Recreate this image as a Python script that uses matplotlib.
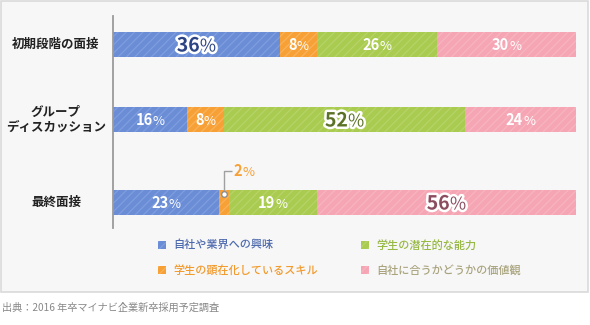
import matplotlib
matplotlib.use('Agg')
import matplotlib.pyplot as plt
import numpy as np
from matplotlib.patches import Rectangle
from matplotlib import patheffects as pe
from matplotlib.transforms import offset_copy, blended_transform_factory

plt.rcParams['font.family'] = ['Noto Sans CJK JP', 'DejaVu Sans']
plt.rcParams['hatch.linewidth'] = 0.9

# ---- data -------------------------------------------------------------
categories = ['初期段階の面接', 'グループ\nディスカッション', '最終面接']
series_names = ['自社や業界への興味', '学生の顕在化しているスキル',
                '学生の潜在的な能力', '自社に合うかどうかの価値観']
interest = [36, 16, 23]
visible_skill = [8, 8, 2]
potential = [26, 52, 19]
culture_fit = [30, 24, 56]
source_note = '出典：2016 年卒マイナビ企業新卒採用予定調査'

# ---- styling ----------------------------------------------------------
fill_colors = ['#6a8dd6', '#f7a035', '#a9cb4f', '#f5a5b3']
hatch_colors = ['#7f9ede', '#f9b25a', '#b7d36a', '#f7b5c0']
legend_text_colors = ['#4d6aae', '#f29a2c', '#97b843', '#a9a47e']
highlight_colors = ['#2c4484', '#b86a10', '#5b7226', '#8b4d5f']

W, H = 590, 325
fig = plt.figure(figsize=(W / 100, H / 100), dpi=100)
fig.patch.set_facecolor('white')

# light panel behind chart and legend
fig.add_artist(Rectangle((0.6 / W, 1 - 291.5 / H), 587 / W, 291 / H,
                         transform=fig.transFigure, facecolor='#f7f7f7',
                         edgecolor='#dadada', lw=1.2, zorder=0))

ax = fig.add_axes([113 / W, 1 - 228 / H, 463 / W, 212 / H])
ax.patch.set_visible(False)
for s in ['top', 'right', 'bottom']:
    ax.spines[s].set_visible(False)
ax.spines['left'].set_color('#9a9a9a')
ax.spines['left'].set_linewidth(1.3)
ax.set_xticks([])
ax.set_yticks([])

series = [interest, visible_skill, potential, culture_fit]
n = len(categories)
rows = np.arange(n, dtype=float)
rows[2] += 0.107          # extra room for the small-value callout
bar_h = 1 / 3
ax.set_xlim(0, 100)
ax.set_ylim(rows[-1] + 0.34, -0.38)

lefts = np.zeros(n)
for j, vals in enumerate(series):
    ax.barh(rows, vals, left=lefts, height=bar_h, color=fill_colors[j],
            edgecolor=hatch_colors[j], linewidth=0, hatch='////', zorder=2)
    lefts += np.array(vals)

# ---- value labels ------------------------------------------------------
pct_pairs = []


def add_pct(x, y, value, color, size, outline=None, ha='center'):
    kw = dict(transform=ax.transData, va='baseline', ha='left', color=color, zorder=5)
    t1 = ax.text(x, y, str(value), fontsize=size, fontweight='bold', **kw)
    t2 = ax.text(x, y, '%', fontsize=size * 0.9, fontweight='normal', **kw)
    if outline:
        for t in (t1, t2):
            t.set_path_effects([pe.withStroke(linewidth=outline, foreground='white')])
    pct_pairs.append((t1, t2, size, ha))


data = np.array(series)           # shape (series, rows)
starts = np.vstack([np.zeros(n), np.cumsum(data, axis=0)[:-1]])
for i in range(n):
    row_max = data[:, i].max()
    for j in range(len(series)):
        v = data[j, i]
        xc = starts[j, i] + v / 2
        if v == row_max:
            add_pct(xc, rows[i], v, highlight_colors[j], 14, outline=3.6)
        elif v >= 5:
            add_pct(xc, rows[i], v, 'white', 10.5)
        else:
            # callout for a segment too narrow to hold its label
            y0 = rows[i] - 0.11
            y1 = rows[i] - 0.42
            ax.plot([xc, xc, xc + 1.6], [y0, y1, y1], color='#a0a0a0', lw=1.0,
                    zorder=4, solid_capstyle='butt')
            ax.plot([xc], [y0], marker='o', ms=4, mfc='white', mec='#8a8a8a',
                    mew=0.9, zorder=6)
            add_pct(xc + 2.1, y1, v, fill_colors[j], 10.5, ha='left')

# category labels
lab_tr = blended_transform_factory(fig.transFigure, ax.transData)
for i, c in enumerate(categories):
    ax.text(56 / W, rows[i], c, transform=lab_tr, ha='center', va='center',
            fontsize=9, fontweight='bold', color='#222222', linespacing=1.2)

# ---- legend ------------------------------------------------------------
leg_order = [0, 2, 1, 3]
leg_pos = [(158, 245), (361, 245), (158, 270), (361, 270)]
for k, (px, py) in zip(leg_order, leg_pos):
    fig.add_artist(Rectangle((px / W, 1 - (py + 4) / H), 8 / W, 8 / H,
                             transform=fig.transFigure, facecolor=fill_colors[k],
                             edgecolor=hatch_colors[k], lw=0, hatch='////'))
    fig.text((px + 15) / W, 1 - py / H, series_names[k], fontsize=8,
             color=legend_text_colors[k], va='center', ha='left',
             fontweight='medium')

fig.text(2 / W, 1 - 308 / H, source_note, fontsize=7.3, color='#888888',
         va='center', ha='left')

# centre the digit + percent pairs
fig.canvas.draw()
r = fig.canvas.get_renderer()
for t1, t2, size, ha in pct_pairs:
    w1 = t1.get_window_extent(r).width
    w2 = t2.get_window_extent(r).width
    gap = 0.0
    total = w1 + w2 + gap
    cap = size * 100 / 72 * 0.72
    x0 = -total / 2 if ha == 'center' else 0
    t1.set_transform(offset_copy(ax.transData, fig=fig, x=x0, y=-cap / 2, units='dots'))
    t2.set_transform(offset_copy(ax.transData, fig=fig, x=x0 + w1 + gap, y=-cap / 2, units='dots'))

fig.savefig('out.png', dpi=100)
